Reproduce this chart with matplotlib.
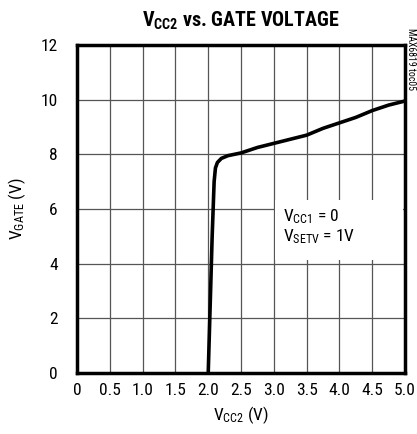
import matplotlib
matplotlib.use("Agg")
import matplotlib.pyplot as plt
from matplotlib import font_manager
from matplotlib.patches import Rectangle

# curve
vcc2 = [2.0, 2.03, 2.06, 2.09, 2.11, 2.14, 2.2, 2.3, 2.5, 2.75, 3.0, 3.25, 3.5, 3.75, 4.0, 4.25, 4.5, 4.75, 5.0]
vgate = [0.0, 2.5, 5.0, 7.0, 7.5, 7.7, 7.85, 7.95, 8.05, 8.25, 8.4, 8.55, 8.7, 8.95, 9.15, 9.35, 9.6, 9.8, 9.95]

xticks = [0, 0.5, 1.0, 1.5, 2.0, 2.5, 3.0, 3.5, 4.0, 4.5, 5.0]
xticklabels = ["0", "0.5", "1.0", "1.5", "2.0", "2.5", "3.0", "3.5", "4.0", "4.5", "5.0"]
yticks = [0, 2, 4, 6, 8, 10, 12]

# pick a narrow font if one is there
names = set(f.name for f in font_manager.fontManager.ttflist)
narrow = "Liberation Sans"
for n in ["Liberation Sans Narrow", "Roboto Condensed", "Open Sans Condensed", "Noto Sans Condensed"]:
    if n in names:
        narrow = n
        break

fam = [narrow, "DejaVu Sans"]
plt.rcParams["font.family"] = fam
plt.rcParams["mathtext.fontset"] = "custom"
plt.rcParams["mathtext.rm"] = narrow
plt.rcParams["mathtext.it"] = narrow
plt.rcParams["mathtext.bf"] = narrow + ":bold"

fs = 12.5 if narrow != "Liberation Sans" else 11.5

fig = plt.figure(figsize=(4.17, 4.34), dpi=100)
ax = fig.add_axes([0.1847, 0.1406, 0.7866, 0.7558])

ax.plot(vcc2, vgate, color="black", lw=2.6, solid_capstyle="butt", zorder=4)

ax.set_xlim(0, 5)
ax.set_ylim(0, 12)
ax.set_xticks(xticks)
ax.set_xticklabels(xticklabels)
ax.set_yticks(yticks)
ax.tick_params(length=0, labelsize=fs)
ax.tick_params(axis="x", pad=7)
ax.tick_params(axis="y", pad=14)
ax.grid(True, color="#555555", lw=0.9)
ax.set_axisbelow(True)
for s in ax.spines.values():
    s.set_linewidth(2.5)
    s.set_zorder(5)

ax.set_xlabel(r"$\mathregular{V_{CC2}}$ (V)", fontsize=fs, labelpad=5)
ax.set_ylabel(r"$\mathregular{V_{GATE}}$ (V)", fontsize=fs, labelpad=9)
ax.set_title(r"$\mathbf{V_{CC2}}$ vs. GATE VOLTAGE", fontsize=fs + 2, fontweight="bold", pad=13)

# white mask behind the note
ax.add_patch(Rectangle((0.604, 0.345), 0.39, 0.182, transform=ax.transAxes,
                       facecolor="white", edgecolor="none", zorder=2))
ax.text(3.14, 5.35, "$\\mathregular{V_{CC1}}$ = 0\n$\\mathregular{V_{SETV}}$ = 1V", fontsize=fs,
        va="center", ha="left", linespacing=1.15, zorder=3)

fig.text(0.985, 0.935, "MAX6819 toc05", rotation=270, fontsize=7, ha="center", va="top")

fig.savefig("out.png", dpi=100)
